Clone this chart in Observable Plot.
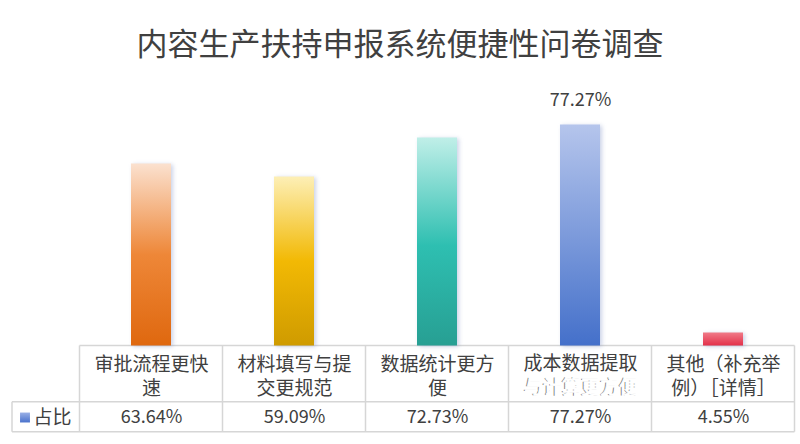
<!DOCTYPE html>
<html><head><meta charset="utf-8">
<script src="https://cdn.jsdelivr.net/npm/d3@7"></script>
<script src="https://cdn.jsdelivr.net/npm/@observablehq/plot@0.6"></script>
<style>
html,body{margin:0;padding:0;background:#fff;}
#title{height:84px;display:flex;align-items:center;justify-content:center;font-family:"Noto Sans CJK SC";font-size:31px;color:#404040;padding-bottom:2px;box-sizing:border-box;}
#chart svg{display:block;}
</style></head><body>
<div id="title">内容生产扶持申报系统便捷性问卷调查</div>
<div id="chart"></div>
<script>
const categories = ["审批流程更快速", "材料填写与提交更规范", "数据统计更方便", "成本数据提取与计算更方便", "其他（补充举例）［详情］"];
const values = [63.64, 59.09, 72.73, 77.27, 4.55];
const seriesName = "占比";

const gradientStops = [
  [["0%", "#fbe1cf"], ["50%", "#ee8738"], ["100%", "#df680f"]],
  [["0%", "#fdefb6"], ["50%", "#f2b904"], ["100%", "#cf9b00"]],
  [["0%", "#c0efe8"], ["52%", "#2ebfb1"], ["100%", "#279f93"]],
  [["0%", "#b5c5ec"], ["100%", "#4470ca"]],
  [["0%", "#f07a88"], ["100%", "#e3304a"]]
];

const data = categories.map((c, i) => ({category: c, value: values[i], line1: c.slice(0, 6), line2: c.slice(6), i}));
const fmt = v => d3.format(".2f")(v) + "%";
const txt = "#404040";
const font = '"Noto Sans CJK SC"';

const plot = Plot.plot({
  width: 800, height: 360, margin: 0,
  style: {fontFamily: font, background: "transparent", color: txt},
  x: {domain: categories, range: [78, 796], paddingInner: 0.72, paddingOuter: 0.36, axis: null},
  y: {domain: [0, 100], range: [261.5, -24.5], axis: null},
  color: {type: "identity"},
  marks: [
    Plot.barY(data, {x: "category", y: "value", fill: d => `url(#grad${d.i})`}),
    Plot.text(data.filter(d => d.value === d3.max(values)), {x: "category", y: "value", text: d => fmt(d.value), dy: -24.5, fontSize: 18, fill: txt, lineAnchor: "middle"}),
    Plot.text(data.filter(d => d.i !== 3), {x: "category", text: d => d.line1 + "\n" + d.line2, frameAnchor: "top", dy: 291, lineHeight: 24 / 19, fontSize: 19, fill: txt, lineAnchor: "middle"}),
    Plot.text(data.filter(d => d.i === 3), {x: "category", text: "line1", frameAnchor: "top", dy: 279, fontSize: 19, fill: txt, lineAnchor: "middle"}),
    Plot.text(data.filter(d => d.i === 3), {x: "category", text: "line2", frameAnchor: "top", dy: 303, dx: -0.8, fontSize: 19, fill: "#8a8a8a", lineAnchor: "middle"}),
    Plot.text(data.filter(d => d.i === 3), {x: "category", text: "line2", frameAnchor: "top", dy: 303, dx: 0.8, fontSize: 19, fill: "white", stroke: "white", strokeWidth: 0.8, lineAnchor: "middle"}),
    Plot.text(data, {x: "category", text: d => fmt(d.value), frameAnchor: "top", dy: 333, fontSize: 18, fill: txt, lineAnchor: "middle"}),
    Plot.dot([seriesName], {frameAnchor: "top-left", dx: 24.5, dy: 333, symbol: "square", r: 5.6, fill: "url(#legendGrad)"}),
    Plot.text([seriesName], {text: d => d, frameAnchor: "top-left", dx: 33, dy: 333, textAnchor: "start", fontSize: 19, fill: txt, lineAnchor: "middle"})
  ]
});

const svg = d3.select(plot);
const defs = svg.insert("defs", ":first-child");
gradientStops.forEach((stops, i) => {
  const g = defs.append("linearGradient").attr("id", `grad${i}`).attr("x1", 0).attr("y1", 0).attr("x2", 0).attr("y2", 1);
  stops.forEach(([o, c]) => g.append("stop").attr("offset", o).attr("stop-color", c));
});
const lg = defs.append("linearGradient").attr("id", "legendGrad").attr("x1", 0).attr("y1", 0).attr("x2", 0).attr("y2", 1);
lg.append("stop").attr("offset", "0%").attr("stop-color", "#9ab0e6");
lg.append("stop").attr("offset", "100%").attr("stop-color", "#4a72cc");

svg.selectAll('g[aria-label="bar"] rect').style("filter", "drop-shadow(2px 1px 2px rgba(110,130,190,0.35))");

// table grid from the x scale
const xs = plot.scale("x");
const ys = plot.scale("y");
const step = xs.step, bw = xs.bandwidth;
const edges = categories.map(c => xs.apply(c) - (step - bw) / 2);
edges.push(edges[edges.length - 1] + step);
const yTop = ys.apply(0), yRow = 317.7, yBot = 347.7, xLeg = 12;
const grid = svg.insert("g", "defs + *").attr("stroke", "#d6d6d6").attr("stroke-width", 1.5);
grid.append("line").attr("x1", edges[0]).attr("x2", edges[5]).attr("y1", yTop).attr("y2", yTop);
grid.append("line").attr("x1", xLeg).attr("x2", edges[5]).attr("y1", yRow).attr("y2", yRow);
grid.append("line").attr("x1", xLeg).attr("x2", edges[5]).attr("y1", yBot).attr("y2", yBot);
edges.forEach(x => grid.append("line").attr("x1", x).attr("x2", x).attr("y1", yTop).attr("y2", yBot));
grid.append("line").attr("x1", xLeg).attr("x2", xLeg).attr("y1", yRow).attr("y2", yBot);

document.getElementById("chart").append(plot);
</script>
</body></html>
